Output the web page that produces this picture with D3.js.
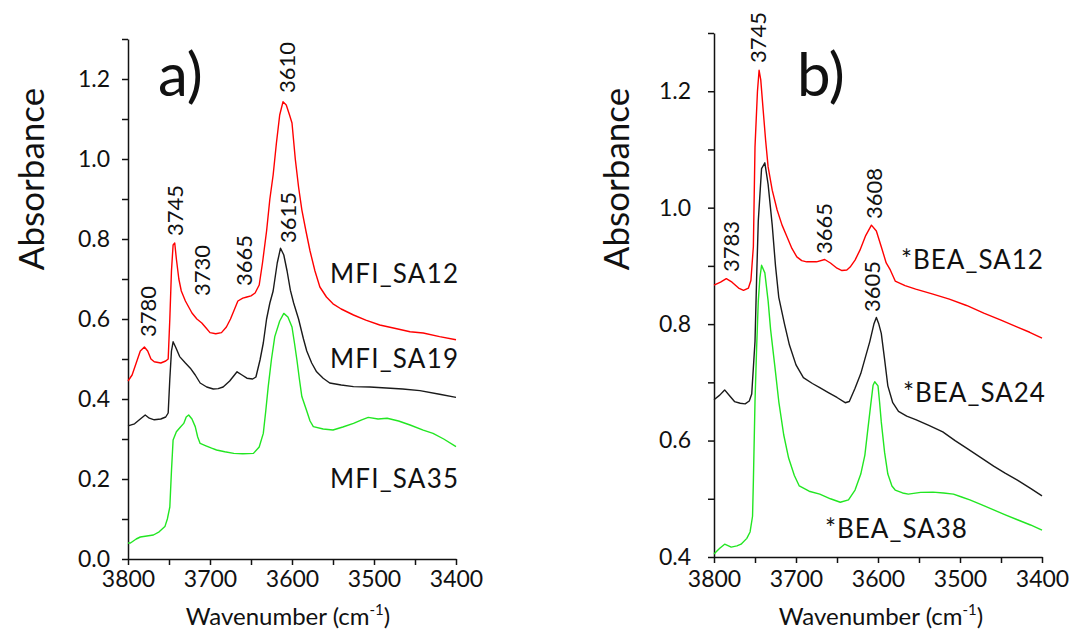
<!DOCTYPE html>
<html>
<head>
<meta charset="utf-8">
<script src="https://cdn.jsdelivr.net/npm/d3@7/dist/d3.min.js"></script>
<style>
  html, body { margin: 0; padding: 0; background: #fff; }
  svg { display: block; }
  text { font-family: Lato, "Open Sans", sans-serif; fill: #111; }
</style>
</head>
<body>
<svg id="chart" width="1073" height="630"></svg>
<script>
// IR spectra of OH stretching region, [wavenumber (cm-1), absorbance]
const mfiSA12 = [[3800,0.445],[3795,0.46],[3790,0.49],[3785,0.52],[3780,0.53],[3776,0.52],[3772,0.50],[3768,0.493],[3760,0.49],[3754,0.495],[3751,0.50],[3749,0.60],[3747,0.72],[3745,0.785],[3743,0.79],[3741,0.75],[3738,0.70],[3735,0.67],[3730,0.645],[3726,0.63],[3722,0.615],[3716,0.60],[3710,0.59],[3705,0.578],[3700,0.566],[3693,0.563],[3686,0.566],[3680,0.58],[3675,0.60],[3670,0.625],[3666,0.645],[3660,0.652],[3655,0.655],[3650,0.658],[3645,0.665],[3640,0.685],[3636,0.74],[3631,0.82],[3627,0.9],[3623,0.96],[3619,1.04],[3615,1.11],[3611,1.143],[3607,1.135],[3603,1.11],[3600,1.09],[3596,1.0],[3592,0.93],[3588,0.873],[3583,0.82],[3578,0.77],[3572,0.72],[3566,0.68],[3558,0.655],[3550,0.638],[3540,0.625],[3525,0.61],[3510,0.597],[3493,0.585],[3475,0.577],[3456,0.568],[3440,0.565],[3420,0.556],[3400,0.548]];
const mfiSA19 = [[3800,0.333],[3792,0.338],[3785,0.35],[3779,0.36],[3774,0.352],[3768,0.348],[3760,0.35],[3754,0.355],[3751,0.365],[3749,0.45],[3747,0.52],[3745,0.543],[3742,0.53],[3737,0.506],[3730,0.49],[3724,0.477],[3718,0.46],[3712,0.44],[3704,0.43],[3696,0.425],[3690,0.426],[3684,0.43],[3676,0.445],[3667,0.468],[3661,0.46],[3655,0.452],[3648,0.45],[3644,0.455],[3639,0.4975],[3635,0.54],[3631,0.6],[3627,0.64],[3623,0.67],[3618,0.74],[3614,0.777],[3610,0.76],[3606,0.72],[3602,0.672],[3598,0.64],[3592,0.6],[3586,0.55],[3582,0.52],[3576,0.49],[3570,0.468],[3562,0.452],[3554,0.44],[3540,0.435],[3525,0.431],[3505,0.43],[3485,0.4275],[3465,0.425],[3444,0.421],[3420,0.412],[3400,0.404]];
const mfiSA35 = [[3800,0.04],[3797,0.04],[3790,0.05],[3785,0.055],[3775,0.058],[3769,0.06],[3762,0.068],[3755,0.081],[3752,0.1],[3749,0.13],[3747,0.22],[3745,0.2975],[3741,0.318],[3736,0.33],[3732,0.339],[3729,0.355],[3726,0.36],[3722,0.35],[3718,0.331],[3715,0.305],[3712,0.289],[3705,0.283],[3698,0.277],[3692,0.2725],[3682,0.268],[3671,0.264],[3660,0.263],[3647,0.264],[3640,0.28],[3635,0.314],[3632,0.37],[3629,0.431],[3625,0.5],[3621,0.556],[3615,0.595],[3610,0.614],[3605,0.605],[3600,0.58],[3597,0.54],[3594,0.4975],[3591,0.45],[3588,0.406],[3582,0.37],[3578,0.345],[3574,0.331],[3562,0.325],[3550,0.3225],[3538,0.33],[3525,0.339],[3515,0.348],[3507,0.354],[3495,0.35],[3484,0.352],[3470,0.345],[3456,0.335],[3440,0.322],[3428,0.314],[3415,0.3],[3400,0.281]];

const beaSA12 = [[3800,0.867],[3792,0.872],[3785,0.878],[3778,0.872],[3770,0.862],[3764,0.858],[3758,0.862],[3755,0.875],[3752,0.933],[3750,1.104],[3747,1.2],[3745,1.236],[3743,1.22],[3740,1.167],[3737,1.115],[3734,1.07],[3729,1.03],[3723,0.996],[3717,0.97],[3711,0.95],[3705,0.93],[3699,0.9155],[3693,0.909],[3687,0.907],[3675,0.907],[3665,0.911],[3658,0.905],[3650,0.896],[3644,0.892],[3638,0.893],[3634,0.898],[3628,0.91],[3622,0.927],[3615,0.952],[3608,0.97],[3602,0.96],[3596,0.933],[3590,0.905],[3585,0.893],[3579,0.874],[3567,0.866],[3554,0.86],[3534,0.852],[3513,0.843],[3492,0.832],[3471,0.819],[3450,0.807],[3430,0.795],[3415,0.786],[3400,0.776]];
const beaSA24 = [[3800,0.67],[3793,0.678],[3787,0.687],[3781,0.677],[3775,0.667],[3768,0.664],[3762,0.663],[3757,0.668],[3754,0.68],[3750,0.77],[3748,0.88],[3746,0.977],[3742,1.067],[3738,1.077],[3734,1.04],[3729,0.97],[3725,0.9],[3721,0.846],[3714,0.8],[3708,0.764],[3700,0.73],[3691,0.708],[3680,0.698],[3671,0.691],[3660,0.682],[3650,0.674],[3640,0.665],[3635,0.667],[3628,0.69],[3621,0.715],[3615,0.745],[3610,0.77],[3605,0.8],[3602,0.8115],[3599,0.8],[3596,0.784],[3592,0.74],[3588,0.694],[3582,0.665],[3575,0.65],[3565,0.642],[3554,0.636],[3538,0.626],[3521,0.615],[3506,0.6],[3492,0.587],[3475,0.571],[3459,0.556],[3445,0.544],[3430,0.532],[3414,0.518],[3400,0.505]];
const beaSA38 = [[3800,0.405],[3793,0.415],[3787,0.422],[3779,0.417],[3772,0.419],[3767,0.422],[3760,0.432],[3756,0.443],[3753,0.47],[3752,0.529],[3750,0.667],[3748,0.76],[3746,0.839],[3744,0.88],[3742,0.901],[3738,0.888],[3734,0.84],[3731,0.791],[3726,0.73],[3721,0.667],[3715,0.61],[3709,0.57],[3702,0.54],[3696,0.522],[3684,0.513],[3671,0.508],[3658,0.5],[3646,0.494],[3636,0.498],[3628,0.515],[3621,0.5425],[3616,0.575],[3613,0.612],[3609,0.66],[3606,0.695],[3604,0.701],[3600,0.694],[3598,0.665],[3596,0.632],[3592,0.58],[3588,0.5425],[3583,0.522],[3579,0.515],[3570,0.51],[3563,0.508],[3548,0.511],[3533,0.5115],[3520,0.51],[3508,0.508],[3498,0.503],[3488,0.498],[3474,0.49],[3459,0.481],[3444,0.472],[3430,0.464],[3414,0.455],[3400,0.446]];

// Tick values
const xTicks = [3800, 3750, 3700, 3650, 3600, 3550, 3500, 3450, 3400];
const xTickLabels = [3800, 3700, 3600, 3500, 3400];
const yTicksA = [0, 0.1, 0.2, 0.3, 0.4, 0.5, 0.6, 0.7, 0.8, 0.9, 1.0, 1.1, 1.2, 1.3];
const yTickLabelsA = [0, 0.2, 0.4, 0.6, 0.8, 1.0, 1.2];
const yTicksB = [0.4, 0.5, 0.6, 0.7, 0.8, 0.9, 1.0, 1.1, 1.2, 1.3];
const yTickLabelsB = [0.4, 0.6, 0.8, 1.0, 1.2];

// Band assignments: [wavenumber label, baseline x, start y]
const bandsA = [["3780",156,337],["3745",183,236],["3730",210,296],["3665",252,286],["3615",296,243],["3610",295,93]];
const bandsB = [["3783",739,272],["3745",766,63],["3665",832,254],["3608",882,219],["3605",880,312]];

const colors = { high: "#ff0000", mid: "#1a1a1a", low: "#22e622" };

const svg = d3.select("#chart");

function panel(cfg) {
  const x = d3.scaleLinear().domain([3800, 3400]).range(cfg.xr);
  const y = d3.scaleLinear().domain(cfg.yd).range(cfg.yr);
  const g = svg.append("g");

  const onLabel = (list) => (d) => list.some(v => Math.abs(v - d) < 1e-6);

  const xAxis = d3.axisBottom(x).tickValues(xTicks).tickSize(6).tickSizeOuter(0)
    .tickPadding(cfg.xPad)
    .tickFormat(d => onLabel(xTickLabels)(d) ? d3.format("d")(d) : "");
  const yAxis = d3.axisLeft(y).tickValues(cfg.yTicks).tickSize(6).tickSizeOuter(0)
    .tickPadding(cfg.yPad)
    .tickFormat(d => onLabel(cfg.yLabels)(d) ? d3.format(".1f")(d) : "");

  const gx = g.append("g").attr("transform", `translate(0,${cfg.yr[0]})`).call(xAxis);
  const gy = g.append("g").attr("transform", `translate(${cfg.xr[0]},0)`).call(yAxis);
  [gx, gy].forEach(a => {
    a.selectAll("path, line").attr("stroke", "#111").attr("stroke-width", 1.5);
    a.selectAll("text").attr("font-size", 23).attr("font-family", "Lato, sans-serif").attr("fill", "#111");
  });

  const line = d3.line().x(d => x(d[0])).y(d => y(d[1]));
  cfg.series.forEach(s => {
    g.append("path").datum(s.data)
      .attr("d", line).attr("fill", "none")
      .attr("stroke", s.color).attr("stroke-width", 1.4)
      .attr("stroke-linejoin", "round");
    g.append("text").attr("x", s.lx).attr("y", s.ly)
      .attr("font-size", 26).attr("letter-spacing", s.ls)
      .text(s.name);
  });

  cfg.bands.forEach(b => {
    g.append("text")
      .attr("transform", `translate(${b[1]},${b[2]}) rotate(-90)`)
      .attr("font-size", 22)
      .text(b[0]);
  });

  g.append("text").attr("x", cfg.tag[1]).attr("y", cfg.tag[2])
    .attr("font-size", 60).text(cfg.tag[0]);

  g.append("text")
    .attr("transform", `translate(${cfg.yTitleX},${cfg.yTitleY}) rotate(-90)`)
    .attr("text-anchor", "middle").attr("font-size", 35)
    .text("Absorbance");

  const xt = g.append("text").attr("x", cfg.xTitleX).attr("y", 625)
    .attr("text-anchor", "middle").attr("font-size", 24);
  xt.append("tspan").text("Wavenumber (cm");
  xt.append("tspan").attr("font-size", 15).attr("dy", -10).text("-1");
  xt.append("tspan").attr("dy", 10).text(")");
}

panel({
  xr: [128, 456], yd: [0, 1.3], yr: [559, 39],
  yTicks: yTicksA, yLabels: yTickLabelsA, xPad: 6, yPad: 12,
  series: [
    { data: mfiSA12, color: colors.high, name: "MFI_SA12", lx: 330, ly: 283, ls: 1.2 },
    { data: mfiSA19, color: colors.mid,  name: "MFI_SA19", lx: 330, ly: 368, ls: 1.2 },
    { data: mfiSA35, color: colors.low,  name: "MFI_SA35", lx: 330, ly: 488, ls: 1.2 }
  ],
  bands: bandsA, tag: ["a)", 158, 96], yTitleX: 44, yTitleY: 179, xTitleX: 288
});

panel({
  xr: [714, 1042], yd: [0.4, 1.3], yr: [557, 33],
  yTicks: yTicksB, yLabels: yTickLabelsB, xPad: 8, yPad: 17,
  series: [
    { data: beaSA12, color: colors.high, name: "*BEA_SA12", lx: 901, ly: 269, ls: 1.0 },
    { data: beaSA24, color: colors.mid,  name: "*BEA_SA24", lx: 903, ly: 402, ls: 1.0 },
    { data: beaSA38, color: colors.low,  name: "*BEA_SA38", lx: 825, ly: 538, ls: 1.0 }
  ],
  bands: bandsB, tag: ["b)", 797, 96], yTitleX: 629, yTitleY: 179, xTitleX: 881
});
</script>
</body>
</html>
